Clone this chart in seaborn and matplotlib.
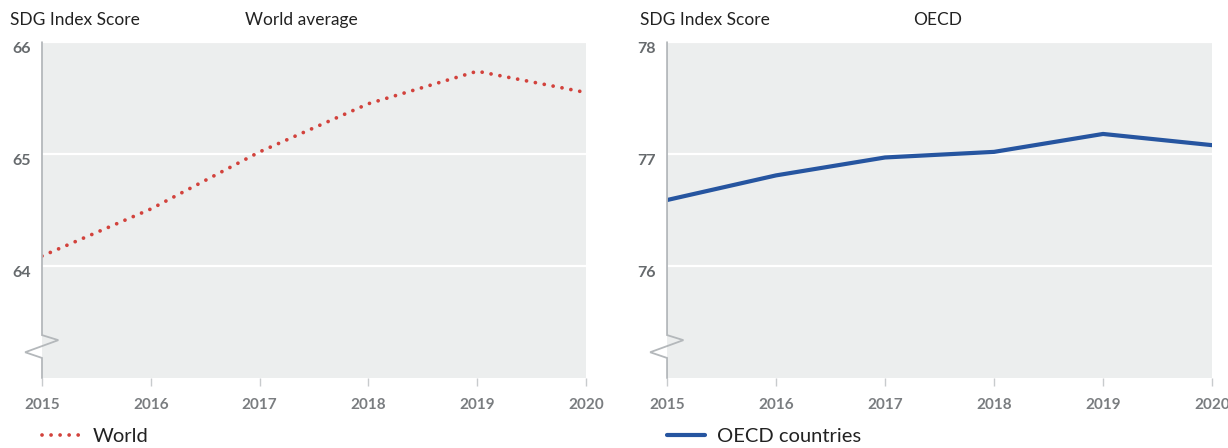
import numpy as np
import pandas as pd
import matplotlib
matplotlib.use('Agg')
import matplotlib.pyplot as plt
import seaborn as sns

# ── Data ──────────────────────────────────────────────────────────────────────
years = [2015, 2016, 2017, 2018, 2019, 2020]
world_scores = [64.09, 64.51, 65.02, 65.45, 65.74, 65.55]
oecd_scores = [76.59, 76.81, 76.97, 77.02, 77.18, 77.08]

world_ylim = (63, 66)
oecd_ylim = (75, 78)
world_yticks = [64, 65, 66]
oecd_yticks = [76, 77, 78]

# ── Style ─────────────────────────────────────────────────────────────────────
sns.set_theme(style='white')
plt.rcParams['font.family'] = ['Lato', 'DejaVu Sans']

BG = '#eceeee'
RED = '#d2423c'
BLUE = '#2655a0'
SPINE = '#b4b8bb'
TICKTXT = '#7a7d80'


def draw_panel(ax, df, color, dotted, label, yticks, ylim, leg_y):
    if dotted:
        sns.lineplot(data=df, x='year', y='score', ax=ax, color=color,
                     linewidth=2.7, linestyle=(0, (0.01, 2.4)),
                     dash_capstyle='round', label=label)
    else:
        sns.lineplot(data=df, x='year', y='score', ax=ax, color=color,
                     linewidth=3, label=label)
    ax.set_facecolor(BG)
    ax.set_xlim(years[0], years[-1])
    ax.set_ylim(*ylim)
    ax.set_xticks(years)
    ax.set_yticks(yticks)
    ax.grid(axis='y', color='white', linewidth=1.6)
    ax.grid(axis='x', visible=False)
    for s in ax.spines.values():
        s.set_visible(False)
    ax.tick_params(axis='x', length=6, width=1, color='#c8cbcd', pad=8,
                   labelsize=11, labelcolor=TICKTXT, direction='out', bottom=True)
    ax.tick_params(axis='y', length=0, pad=8, labelsize=11.5, labelcolor='#666a6d')
    for t in ax.get_xticklabels() + ax.get_yticklabels():
        t.set_fontweight('bold')
    for t in ax.get_yticklabels():
        t.set_verticalalignment('top')
    ax.set_xlabel('')
    ax.set_ylabel('')

    # left axis line with a zig-zag break
    zx = [0, 0, 0.030, -0.031, 0, 0]
    zy = [1, 0.128, 0.113, 0.077, 0.060, 0]
    ax.plot(zx, zy, transform=ax.transAxes, color=SPINE, linewidth=1.3,
            clip_on=False, solid_joinstyle='miter')

    leg = ax.legend(loc='center left', bbox_to_anchor=(0.0, leg_y),
                    frameon=False, fontsize=14.5, handlelength=1.9,
                    handletextpad=0.6, borderpad=0, borderaxespad=0)
    for t in leg.get_texts():
        t.set_color('#222222')


fig = plt.figure(figsize=(12.28, 4.48), dpi=100)
ax1 = fig.add_axes([0.0342, 0.156, 0.443, 0.75])
ax2 = fig.add_axes([0.5432, 0.156, 0.4438, 0.75])

world_df = pd.DataFrame({'year': years, 'score': world_scores})
oecd_df = pd.DataFrame({'year': years, 'score': oecd_scores})

draw_panel(ax1, world_df, RED, True, 'World', world_yticks, world_ylim, -0.175)
draw_panel(ax2, oecd_df, BLUE, False, 'OECD countries', oecd_yticks, oecd_ylim, -0.175)

fig.text(10 / 1228, 1 - 20 / 448, 'SDG Index Score', fontsize=12.5,
         color='#222222', va='center', ha='left')
fig.text(245 / 1228, 1 - 20 / 448, 'World average', fontsize=12.5,
         color='#222222', va='center', ha='left')
fig.text(640 / 1228, 1 - 20 / 448, 'SDG Index Score', fontsize=12.5,
         color='#222222', va='center', ha='left')
fig.text(913 / 1228, 1 - 20 / 448, 'OECD', fontsize=12.5,
         color='#222222', va='center', ha='left')

fig.savefig('out.png', dpi=100, facecolor='white')
